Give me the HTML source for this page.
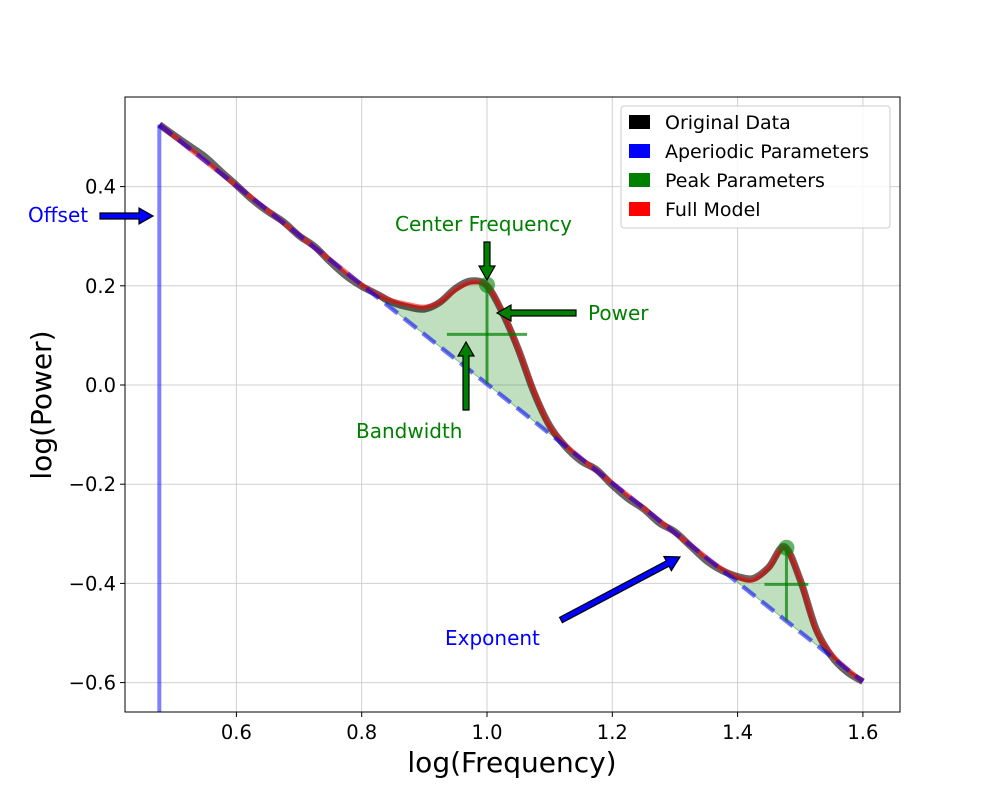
<!DOCTYPE html>
<html><head><meta charset="utf-8"><style>
body{margin:0;background:#fff;}
svg{display:block;font-family:"DejaVu Sans","Liberation Sans",sans-serif;}
</style></head><body>
<svg id="chart" width="1000" height="800" viewBox="0 0 1000 800"></svg>
<script>
const freqs=[0.477,0.5,0.525,0.55,0.575,0.6,0.625,0.65,0.675,0.7,0.725,0.75,0.775,0.8,0.825,0.85,0.875,0.9,0.925,0.95,0.975,1.0,1.025,1.05,1.075,1.1,1.125,1.15,1.175,1.2,1.225,1.25,1.275,1.3,1.325,1.35,1.375,1.4,1.425,1.45,1.475,1.5,1.525,1.55,1.575,1.6];
const peakExcess=[0,0,0,0,0,0,0,0,0,0,0,0,0,0,0.005,0.017,0.035,0.055,0.09,0.14,0.18,0.198,0.17,0.12,0.06,0.015,0.002,0,0,0,0,0,0,0,0,0,0.002,0.01,0.03,0.08,0.145,0.105,0.03,0.005,0,0];
const noise=[0,0.002,0.005,0.008,0.004,0.001,-0.003,-0.002,0.002,-0.001,0.002,-0.004,-0.007,-0.003,0.001,-0.003,-0.005,-0.004,0,0.003,0.003,0,-0.002,0,-0.002,0.001,-0.003,-0.005,0.002,-0.004,-0.006,-0.002,-0.005,0.002,-0.002,-0.006,-0.003,0.002,0.003,0.001,0.002,0,0.002,-0.004,-0.006,0];
const offset=0.525, exponent=1.0;
const peakCenters=[1.0,1.478];
const peakPowers=[0.2,0.148];
const peakBandwidths=[0.128,0.07];
const xTicks=[0.6,0.8,1.0,1.2,1.4,1.6];
const yTicks=[0.4,0.2,0.0,-0.2,-0.4,-0.6];

const NS="http://www.w3.org/2000/svg";
const svg=document.getElementById('chart');
const L=125,R=900,T=97,B=712;
const X=v=>487+(v-1)*626.5;
const Y=v=>385-v*496;
const ap=f=>offset-exponent*(f-freqs[0]);
const model=freqs.map((f,i)=>ap(f)+peakExcess[i]);
const data=model.map((m,i)=>m+noise[i]);
function el(tag,attrs,parent){const e=document.createElementNS(NS,tag);for(const k in attrs)e.setAttribute(k,attrs[k]);(parent||svg).appendChild(e);return e;}
function smooth(pts){let d='M'+pts[0][0]+','+pts[0][1];for(let i=0;i<pts.length-1;i++){const p0=pts[Math.max(0,i-1)],p1=pts[i],p2=pts[i+1],p3=pts[Math.min(pts.length-1,i+2)];const c1=[p1[0]+(p2[0]-p0[0])/6,p1[1]+(p2[1]-p0[1])/6],c2=[p2[0]-(p3[0]-p1[0])/6,p2[1]-(p3[1]-p1[1])/6];d+=' C'+c1+' '+c2+' '+p2;}return d;}

xTicks.forEach(t=>{const g=el('line',{x1:X(t),x2:X(t),y1:T,y2:B,stroke:'#d0d0d0','stroke-width':1});


el('line',{x1:X(t),x2:X(t),y1:B,y2:B+5,stroke:'#000'});
const tx=el('text',{x:X(t),y:B+27,'text-anchor':'middle','font-size':19.5});tx.textContent=t.toFixed(1);

});
yTicks.forEach(t=>{const g=el('line',{x1:L,x2:R,y1:Y(t),y2:Y(t),stroke:'#d0d0d0','stroke-width':1});


el('line',{x1:L-5,x2:L,y1:Y(t),y2:Y(t),stroke:'#000'});
const tx=el('text',{x:L-9,y:Y(t)+7,'text-anchor':'end','font-size':19.5});tx.textContent=(t<0?'\u2212':'')+Math.abs(t).toFixed(1);

});

[[13,27],[35,45]].forEach(([a,b])=>{const top=[],bot=[];for(let i=a;i<=b;i++){top.push([X(freqs[i]),Y(model[i])]);}for(let i=b;i>=a;i--)bot.push([X(freqs[i]),Y(ap(freqs[i]))]);
const p=el('path',{d:smooth(top)+' L'+bot.map(p=>p.join(',')).join(' L')+' Z',fill:'green','fill-opacity':0.25,stroke:'green','stroke-opacity':0.4,'stroke-width':1});

});

const dp=el('path',{d:smooth(freqs.map((f,i)=>[X(f),Y(data[i])])),fill:'none',stroke:'#000','stroke-opacity':0.6,'stroke-width':7,'stroke-linejoin':'round'});


const mp=el('path',{d:smooth(freqs.map((f,i)=>[X(f),Y(model[i])])),fill:'none',stroke:'red','stroke-opacity':0.55,'stroke-width':5,'stroke-linejoin':'round'});


const f0=freqs[0],f1=freqs[freqs.length-1];
const ofl=el('line',{x1:X(f0),x2:X(f0),y1:Y(offset),y2:B,stroke:'blue','stroke-opacity':0.5,'stroke-width':4});


const apl=el('line',{x1:X(f0),y1:Y(ap(f0)),x2:X(f1),y2:Y(ap(f1)),stroke:'blue','stroke-opacity':0.55,'stroke-width':4.5,'stroke-dasharray':'16,8'});



peakCenters.forEach((c,i)=>{const base=ap(c),top=base+peakPowers[i],half=base+peakPowers[i]/2;
const v=el('line',{x1:X(c),x2:X(c),y1:Y(base),y2:Y(top),stroke:'green','stroke-opacity':0.7,'stroke-width':3});


const h=el('line',{x1:X(c-peakBandwidths[i]/2),x2:X(c+peakBandwidths[i]/2),y1:Y(half),y2:Y(half),stroke:'green','stroke-opacity':0.7,'stroke-width':3});


const ci=el('circle',{cx:X(c),cy:Y(top),r:8,fill:'green','fill-opacity':0.6});

});

const fr=el('rect',{x:L,y:T,width:R-L,height:B-T,fill:'none',stroke:'#000','stroke-width':1});



function arrow(x1,y1,x2,y2,col,name){const dx=x2-x1,dy=y2-y1,len=Math.hypot(dx,dy),ux=dx/len,uy=dy/len,nx=-uy,ny=ux,w=3,hw=8,hl=14;const bx=x2-ux*hl,by=y2-uy*hl;
const pts=[[x1+nx*w,y1+ny*w],[bx+nx*w,by+ny*w],[bx+nx*hw,by+ny*hw],[x2,y2],[bx-nx*hw,by-ny*hw],[bx-nx*w,by-ny*w],[x1-nx*w,y1-ny*w]];
const p=el('polygon',{points:pts.map(p=>p.join(',')).join(' '),fill:col,stroke:'#000','stroke-width':1.2});

}
arrow(100,216,153,216,'blue','offset-arrow');
arrow(487,242,487,280,'green','center-frequency-arrow');
arrow(576,313,497,313,'green','power-arrow');
arrow(466,410,466,342,'green','bandwidth-arrow');
arrow(561,620,680,557,'blue','exponent-arrow');
function label(x,y,t,col,name){const e=el('text',{x:x,y:y,fill:col,'font-size':20});e.textContent=t;

}
label(28,222,'Offset','blue','offset-label');
label(395,231,'Center Frequency','green','center-frequency-label');
label(588,320,'Power','green','power-label');
label(356,438,'Bandwidth','green','bandwidth-label');
label(445,645,'Exponent','blue','exponent-label');

const xt=el('text',{x:512,y:772,'text-anchor':'middle','font-size':28});xt.textContent='log(Frequency)';


const yt=el('text',{x:0,y:0,'text-anchor':'middle','font-size':28,transform:'translate(51,405) rotate(-90)'});yt.textContent='log(Power)';



const lg=el('g',{});


el('rect',{x:621,y:106,width:269,height:122,rx:3,fill:'#fff','fill-opacity':0.85,stroke:'#ccc'},lg);
[['Original Data','#000'],['Aperiodic Parameters','blue'],['Peak Parameters','green'],['Full Model','red']].forEach(([t,c],i)=>{const y=122+i*29;
const g=el('g',{},lg);


el('rect',{x:629,y:y-7,width:21,height:14,fill:c},g);
const tx=el('text',{x:665,y:y+7,'font-size':19},g);tx.textContent=t;});
</script>
</body></html>
